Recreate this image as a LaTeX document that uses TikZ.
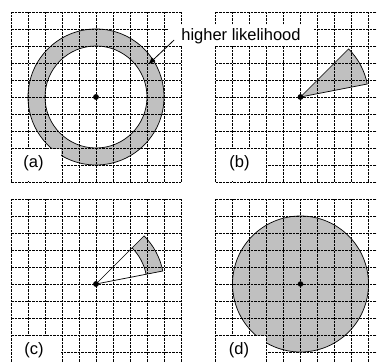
\documentclass[tikz,border=0pt]{standalone}
\usepackage{fontspec}
\setmainfont{Liberation Sans}
\usetikzlibrary{arrows.meta}
\definecolor{likelygray}{RGB}{192,192,192}

\begin{document}
\begin{tikzpicture}[x=1pt, y=1pt, font=\fontsize{16.5}{19}\selectfont,
  gridline/.style={black, line width=0.8pt, dash pattern=on 2.5pt off 1pt},
  region/.style={fill=likelygray, draw=black, line width=0.7pt},
  dot/.style={circle, fill=black, inner sep=0pt, minimum size=5.5pt}]
\useasboundingbox (0,0) rectangle (377,363);
\clip (0,0) rectangle (377,363);

% sensor positions
\node[dot] (ca) at (96,266) {};
\node[dot] (cb) at (300.5,266) {};
\node[dot] (cc) at (96,79) {};
\node[dot] (cd) at (300.5,79) {};

% likely regions
\path[region, even odd rule] (ca.center) circle[radius=68pt] (ca.center) circle[radius=51pt];
\path[region] (cb.center) -- ([shift={(11:68pt)}]cb.center)
  arc[start angle=11, end angle=45, radius=68pt] -- cycle;
\path[region] ([shift={(11:51pt)}]cc.center) -- ([shift={(11:68pt)}]cc.center)
  arc[start angle=11, end angle=45, radius=68pt] -- ([shift={(45:51pt)}]cc.center)
  arc[start angle=45, end angle=11, radius=51pt] -- cycle;
\draw[line width=0.7pt] (cc.center) -- ([shift={(11:51pt)}]cc.center)
  (cc.center) -- ([shift={(45:51pt)}]cc.center);
\path[region] (cd.center) circle[radius=68pt];

% grids, with a blank corner for the label
\foreach \gx/\gy in {11/181, 215.5/181, 11/-6, 215.5/-6} {
  \foreach \k in {0,...,10} {
    \draw[gridline] (\gx+17*\k,\gy) -- ++(0,170);
    \draw[gridline] (\gx,\gy+17*\k) -- ++(170,0);
  }
  \fill[white] (\gx+0.6,\gy+0.6) rectangle ++(49.8,32.8);
}
\node[dot] at (ca) {};
\node[dot] at (cb) {};
\node[dot] at (cc) {};
\node[dot] at (cd) {};

% labels
\node (la) at (33.5,199.7) {(a)};
\node (lb) at (239.5,199.7) {(b)};
\node (lc) at (34,12.5) {(c)};
\node (ld) at (239,12.5) {(d)};

\node[fill=white, inner xsep=13pt, inner ysep=0pt, minimum height=21pt] (hl) at (241,327) {higher likelihood};
\coordinate (ringpt) at ([shift={(32:62pt)}]ca.center);
\draw[-{Triangle[length=7pt,width=5pt]}, line width=0.8pt] ([xshift=6pt,yshift=-4pt]hl.west) -- (ringpt);
\end{tikzpicture}
\end{document}
